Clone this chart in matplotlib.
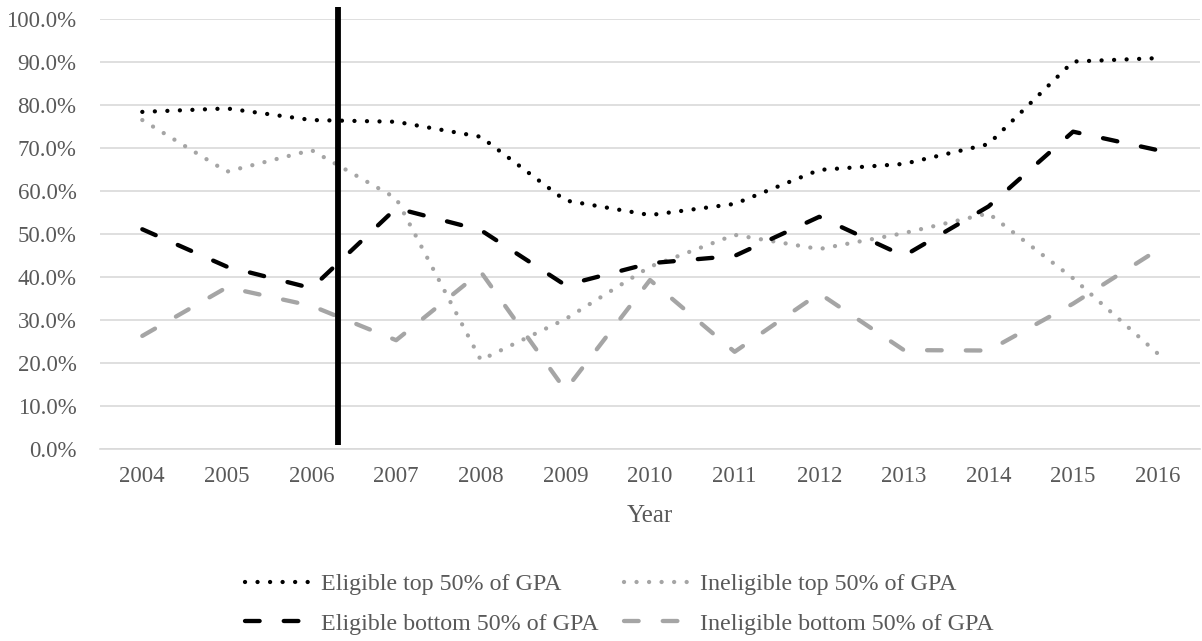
import matplotlib
matplotlib.use("Agg")
import matplotlib.pyplot as plt
from matplotlib.ticker import FuncFormatter

years = ["2004", "2005", "2006", "2007", "2008", "2009", "2010",
         "2011", "2012", "2013", "2014", "2015", "2016"]
eligible_top = [78.4, 79.2, 76.5, 76.1, 72.6, 57.8, 54.4, 57.0, 64.9, 66.3, 70.9, 90.1, 90.9]
ineligible_top = [76.5, 64.5, 69.5, 58.3, 20.7, 30.2, 42.4, 49.8, 46.5, 50.2, 54.8, 39.7, 22.2]
eligible_bottom = [51.1, 42.4, 37.4, 56.0, 50.9, 38.1, 43.2, 44.9, 54.0, 44.9, 56.4, 73.8, 69.5]
ineligible_bottom = [26.3, 37.6, 33.3, 25.3, 41.2, 13.7, 39.3, 22.6, 36.2, 23.0, 22.9, 33.8, 46.3]
yticks = [0, 10, 20, 30, 40, 50, 60, 70, 80, 90, 100]
policy_x = 2.31          # position of vertical marker, in category units
policy_y = (0.9, 102.8)  # vertical extent in percent

BLACK = "#000000"
GRAY = "#A5A5A5"
TEXT = "#595959"
FONT = "Liberation Serif"

plt.rcParams["font.family"] = [FONT, "DejaVu Serif"]

fig = plt.figure(figsize=(12.02, 6.41), dpi=100)
ax = fig.add_axes([100 / 1202, 1 - 449 / 641, 1100 / 1202, 430 / 641])

x = list(range(len(years)))
lw = 3.1
dotted = (0, (0.01, 2.9))
dashed = (0, (3.4, 5.6))

h_et, = ax.plot(x, eligible_top, color=BLACK, lw=lw, linestyle=dotted,
                dash_capstyle="round", label="Eligible top 50% of GPA", zorder=4)
h_it, = ax.plot(x, ineligible_top, color=GRAY, lw=lw, linestyle=dotted,
                dash_capstyle="round", label="Ineligible top 50% of GPA", zorder=3)
h_eb, = ax.plot(x, eligible_bottom, color=BLACK, lw=lw, linestyle=dashed,
                dash_capstyle="round", label="Eligible bottom 50% of GPA", zorder=4)
h_ib, = ax.plot(x, ineligible_bottom, color=GRAY, lw=lw, linestyle=dashed,
                dash_capstyle="round", label="Ineligible bottom 50% of GPA", zorder=3)

ax.plot([policy_x, policy_x], list(policy_y), color=BLACK, lw=4.2,
        solid_capstyle="butt", clip_on=False, zorder=5)

ax.set_xlim(-0.5, len(years) - 0.5)
ax.set_ylim(0, 100)
ax.set_xticks(x)
ax.set_xticklabels(years)
ax.set_yticks(yticks)
ax.yaxis.set_major_formatter(FuncFormatter(lambda v, p: f"{v:.1f}%"))
ax.grid(axis="y", color="#D9D9D9", lw=1.2)
ax.set_axisbelow(True)
for s in ["top", "right", "left"]:
    ax.spines[s].set_visible(False)
ax.spines["bottom"].set_color("#D9D9D9")
ax.spines["bottom"].set_linewidth(1.2)
ax.tick_params(axis="both", length=0, labelsize=16.5, colors=TEXT)
ax.tick_params(axis="x", pad=12)
ax.tick_params(axis="y", pad=17)

ax.set_xlabel("Year", fontsize=18, color=TEXT, va="center")
ax.xaxis.set_label_coords(0.5, -(516 - 449) / 430)

handles = [h_et, h_eb, h_it, h_ib]
leg = fig.legend(handles=handles, labels=[h.get_label() for h in handles],
                 loc="center", bbox_to_anchor=(619 / 1202, 1 - 604 / 641),
                 ncol=2, frameon=False, fontsize=17.3, handlelength=2.7,
                 handletextpad=0.47, columnspacing=1.05, labelspacing=0.75,
                 borderpad=0, borderaxespad=0)
for t in leg.get_texts():
    t.set_color(TEXT)

fig.savefig("out.png", dpi=100)
